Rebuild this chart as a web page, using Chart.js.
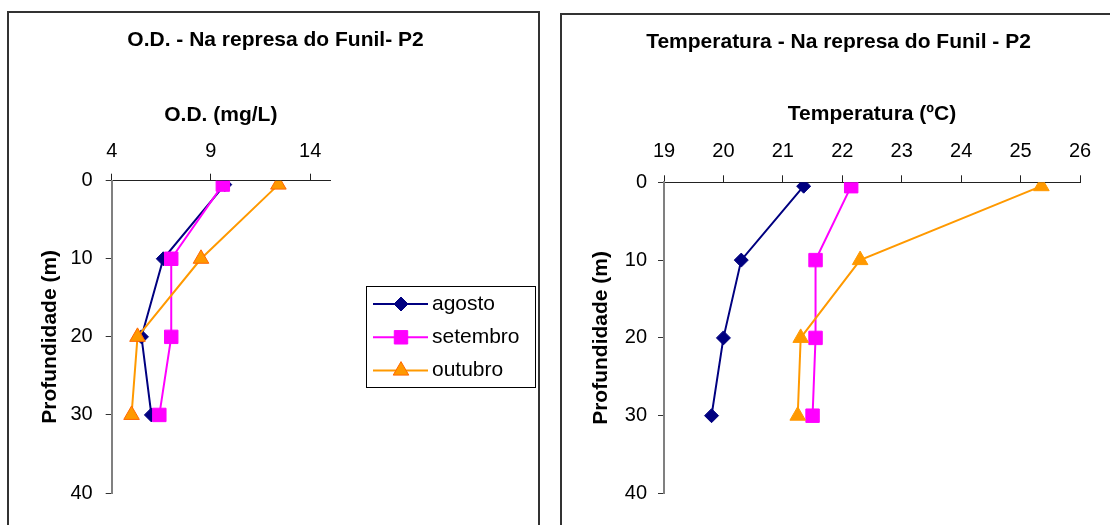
<!DOCTYPE html>
<html>
<head>
<meta charset="utf-8">
<script src="https://cdn.jsdelivr.net/npm/chart.js@4.4.1/dist/chart.umd.min.js"></script>
<style>
    body { margin: 0; width: 1110px; height: 525px; overflow: hidden; background: #fff; }
    .panel { position: absolute; border: 2px solid #333; height: 600px; }
    #panelOD { left: 7px; top: 11px; width: 529px; }
    #panelTemp { left: 560px; top: 13px; width: 600px; }
    canvas { position: absolute; }
    #odChart { left: 10px; top: 14px; }
    #tempChart { left: 563px; top: 16px; }
</style>
</head>
<body>
<div class="panel" id="panelOD"></div>
<div class="panel" id="panelTemp"></div>
<canvas id="odChart" width="531" height="511"></canvas>
<canvas id="tempChart" width="551" height="509"></canvas>
<script>
// data (depth in m)
const months = ["agosto", "setembro", "outubro"];
const depths = [0.5, 10, 20, 30];
const depthTicks = [0, 10, 20, 30, 40];

const odAgosto = [9.7, 6.6, 5.5, 6.0];
const odSetembro = [9.6, 7.0, 7.0, 6.4];
const odOutubro = [12.4, 8.5, 5.3, 5.0];
const odTicks = [4, 9, 14];

const tempAgosto = [21.35, 20.3, 20.0, 19.8];
const tempSetembro = [22.15, 21.55, 21.55, 21.5];
const tempOutubro = [25.35, 22.3, 21.3, 21.25];
const tempTicks = [19, 20, 21, 22, 23, 24, 25, 26];

const monthColors = ["#000080", "#ff00ff", "#ff9900"];
const markerStyles = ["rectRot", "rect", "triangle"];
const markerSizes = [7, 9.5, 9];

Chart.defaults.font.family = "'Liberation Sans', Arial, sans-serif";
Chart.defaults.color = "#000";

// excel-like legend box: line + marker + label
const legendBox = {
    id: "legendBox",
    afterDraw(chart, args, opts) {
        if (!opts.display) {
            return;
        }
        const ctx = chart.ctx;
        ctx.save();
        ctx.strokeStyle = "#000";
        ctx.lineWidth = 1;
        ctx.strokeRect(opts.x + 0.5, opts.y + 0.5, opts.width, opts.height);
        chart.data.datasets.forEach((ds, i) => {
            const cy = opts.y + opts.firstRow + i * opts.rowGap;
            ctx.strokeStyle = ds.borderColor;
            ctx.lineWidth = ds.borderWidth;
            ctx.beginPath();
            ctx.moveTo(opts.x + 7, cy);
            ctx.lineTo(opts.x + 62, cy);
            ctx.stroke();
            ctx.fillStyle = ds.pointBackgroundColor;
            ctx.strokeStyle = ds.pointBorderColor;
            ctx.lineWidth = 1;
            Chart.helpers.drawPoint(ctx, {
                pointStyle: ds.pointStyle,
                radius: ds.pointRadius,
                borderWidth: 1,
                rotation: 0
            }, opts.x + 35, cy);
            ctx.fillStyle = "#000";
            ctx.font = "21px 'Liberation Sans', Arial, sans-serif";
            ctx.textBaseline = "middle";
            ctx.textAlign = "left";
            ctx.fillText(ds.label, opts.x + 66, cy);
        });
        ctx.restore();
    }
};
Chart.register(legendBox);

const buildDatasets = (seriesList, triangleEdge) => seriesList.map((values, i) => ({
    label: months[i],
    data: values.map((v, j) => ({ x: v, y: depths[j] })),
    showLine: true,
    borderColor: monthColors[i],
    borderWidth: 2,
    pointStyle: markerStyles[i],
    pointRadius: markerSizes[i],
    pointHoverRadius: markerSizes[i],
    pointBackgroundColor: monthColors[i],
    pointBorderColor: i === 2 ? triangleEdge : monthColors[i],
    pointBorderWidth: 1,
    order: 3 - i
}));

const profileOptions = (cfg) => ({
    responsive: false,
    animation: false,
    events: [],
    layout: { padding: { top: 0, left: 0, right: 0, bottom: cfg.bottomPad } },
    plugins: {
        legend: { display: false },
        tooltip: { enabled: false },
        title: {
            display: true,
            text: cfg.title,
            color: "#000",
            font: { size: 21, weight: "bold" },
            padding: { top: cfg.titleTop, bottom: 0 }
        },
        legendBox: cfg.legend
    },
    scales: {
        x: {
            type: "linear",
            position: "top",
            min: cfg.xMin,
            max: cfg.xMax,
            afterBuildTicks: (s) => { s.ticks = cfg.xTicks.map(v => ({ value: v })); },
            afterFit: (s) => { s.height = cfg.xHeight; },
            title: {
                display: true,
                text: cfg.xTitle,
                color: "#000",
                font: { size: 21, weight: "bold" },
                padding: { top: cfg.xTitleTop, bottom: 0 }
            },
            ticks: { color: "#000", font: { size: 20 }, padding: cfg.xTickPad, autoSkip: false, maxRotation: 0 },
            grid: { drawOnChartArea: false, color: "#222", tickLength: 7 },
            border: { color: "#222", width: 1 }
        },
        y: {
            type: "linear",
            position: "left",
            reverse: true,
            min: 0,
            max: 40,
            afterBuildTicks: (s) => { s.ticks = depthTicks.map(v => ({ value: v })); },
            afterFit: (s) => { s.width = cfg.yWidth; },
            title: {
                display: true,
                text: "Profundidade (m)",
                color: "#000",
                font: { size: 21, weight: "bold" },
                padding: { top: cfg.yTitleTop, bottom: 0 }
            },
            ticks: { color: "#000", font: { size: 20 }, padding: cfg.yTickPad },
            grid: { drawOnChartArea: false, color: "#333", tickLength: 6 },
            border: { color: "#808080", width: 2 }
        },
        // empty right box so the title stays centred on the whole panel
        pad: {
            type: "linear",
            position: "right",
            display: true,
            grid: { display: false },
            border: { display: false },
            ticks: { display: false },
            afterFit: (s) => { s.width = cfg.rightPad; }
        }
    }
});

new Chart(document.getElementById("odChart"), {
    type: "scatter",
    data: { datasets: buildDatasets([odAgosto, odSetembro, odOutubro], "#ff6600") },
    options: profileOptions({
        title: "O.D. - Na represa do Funil- P2",
        xTitle: "O.D. (mg/L)",
        xMin: 4,
        xMax: 15,
        xTicks: odTicks,
        titleTop: 13.9,
        xHeight: 127.6,
        xTitleTop: 49.3,
        xTickPad: 10.7,
        yWidth: 101.7,
        yTitleTop: 27.2,
        yTickPad: 13,
        rightPad: 211,
        bottomPad: 32,
        legend: { display: true, x: 356, y: 272, width: 169, height: 101, firstRow: 18, rowGap: 33.3 }
    })
});

new Chart(document.getElementById("tempChart"), {
    type: "scatter",
    data: { datasets: buildDatasets([tempAgosto, tempSetembro, tempOutubro], "#ff9900") },
    options: profileOptions({
        title: "Temperatura - Na represa do Funil - P2",
        xTitle: "Temperatura (ºC)",
        xMin: 19,
        xMax: 26,
        xTicks: tempTicks,
        titleTop: 13.2,
        xHeight: 127.9,
        xTitleTop: 47.5,
        xTickPad: 11.5,
        yWidth: 101,
        yTitleTop: 25.4,
        yTickPad: 11,
        rightPad: 34,
        bottomPad: 31.5,
        legend: { display: false }
    })
});
</script>
</body>
</html>
